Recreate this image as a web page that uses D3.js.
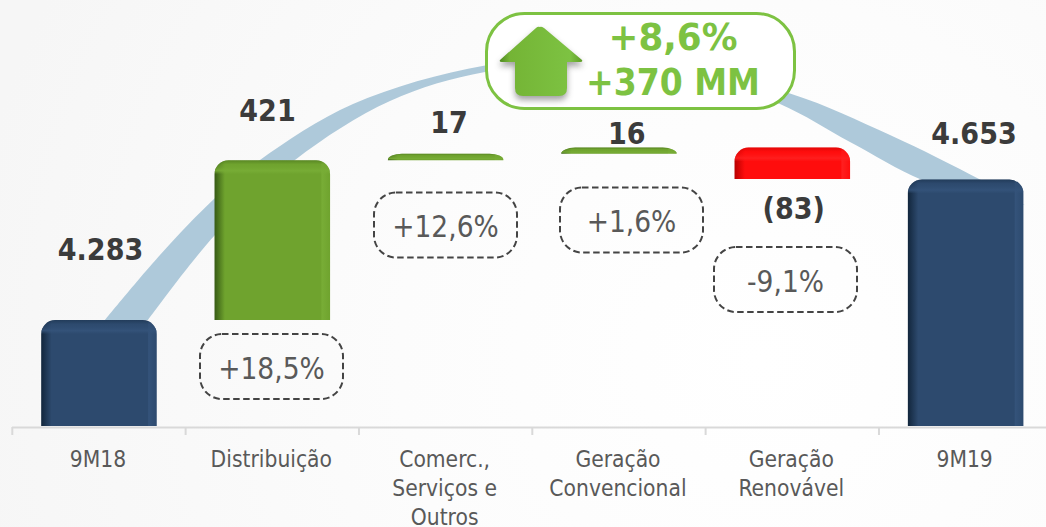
<!DOCTYPE html>
<html><head><meta charset="utf-8">
<script src="https://cdn.jsdelivr.net/npm/d3@7"></script>
<style>html,body{margin:0;padding:0;background:#fff;overflow:hidden}svg{display:block}
text{font-family:"DejaVu Sans Condensed","DejaVu Sans",sans-serif}</style></head><body>
<div id="chart"></div>
<script>
const categories = [["9M18"],["Distribuição"],["Comerc.,","Serviços e","Outros"],["Geração","Convencional"],["Geração","Renovável"],["9M19"]];
const deltas = [4283, 421, 17, 16, -83, 4653];
const kinds = ["total","up","up","up","down","total"];
const valueLabels = ["4.283","421","17","16","(83)","4.653"];
const growthLabels = [null,"+18,5%","+12,6%","+1,6%","-9,1%",null];
const headline = ["+8,6%","+370 MM"];

const W=1046,H=527;
const svg=d3.select("#chart").append("svg").attr("width",W).attr("height",H);
const defs=svg.append("defs");

// background wash
const bg=defs.append("radialGradient").attr("id","bg").attr("gradientUnits","userSpaceOnUse")
 .attr("cx",760).attr("cy",360).attr("r",800);
bg.append("stop").attr("offset",0).attr("stop-color","#ffffff");
bg.append("stop").attr("offset",0.45).attr("stop-color","#fcfcfc");
bg.append("stop").attr("offset",1).attr("stop-color","#f6f6f6");
svg.append("rect").attr("width",W).attr("height",H).attr("fill","url(#bg)");

const x=d3.scaleBand().domain(d3.range(categories.length)).range([12.3,1052.3]).paddingInner(1/3).paddingOuter(1/6);
const y=d3.scaleLinear().domain([4004,4653]).range([426,179.5]);

// running totals
let run=0;
const bars=deltas.map((d,i)=>{
  if(kinds[i]==="total"){run=d;return{i,kind:"total",lo:y.domain()[0],hi:d};}
  const s=run;run+=d;return{i,kind:kinds[i],lo:Math.min(s,run),hi:Math.max(s,run)};
});

// swoosh behind bars
const upper=[[105,320],[160,255],[215,198],[260,160],[353,104],[485,65.5],[620,55],[790,93.4],[890,135],[980,179.5],[1025,205]];
const lower=[[1025,205],[975,196],[921,179.5],[850,142],[780,104],[700,78],[600,64],[485,72],[390,101],[295,160],[215,235],[148,320]];
const curve=d3.line().curve(d3.curveCatmullRom.alpha(0.5));
const swoosh=curve(upper)+"L"+curve(lower).slice(1)+"Z";
svg.append("path").attr("d",swoosh).attr("fill","#aec9da");

// axis
const tickXs=d3.range(categories.length+1).map(i=>12.3+i*x.step());
svg.append("line").attr("x1",12).attr("x2",W).attr("y1",427.5).attr("y2",427.5).attr("stroke","#d9d9d9").attr("stroke-width",2);
svg.selectAll("line.t").data(tickXs).join("line").attr("class","t")
 .attr("x1",d=>d).attr("x2",d=>d).attr("y1",427).attr("y2",435).attr("stroke","#d9d9d9").attr("stroke-width",2);
const lab=svg.selectAll("text.cat").data(categories).join("text").attr("class","cat")
 .attr("text-anchor","middle").attr("fill","#595959").attr("font-size",22.6);
lab.each(function(lines,i){
  d3.select(this).selectAll("tspan").data(lines).join("tspan")
   .attr("x",x(i)+x.bandwidth()/2-1).attr("y",(d,j)=>466.5+j*29).text(d=>d);
});

// bar gradients
const palette={total:{base:"#2d4a6e",dark:"#12263c",light:"#34537a"},up:{base:"#6fa32e",dark:"#365a14",light:"#78ad36"},down:{base:"#ff0d0d",dark:"#b80000",light:"#ff2020"}};
Object.entries(palette).forEach(([k,c])=>{
  const g=defs.append("linearGradient").attr("id","h-"+k);
  [[0,c.dark],[0.09,c.base],[0.92,c.base],[0.93,c.light],[1,c.base]].forEach(s=>g.append("stop").attr("offset",s[0]).attr("stop-color",s[1]));
  const t=defs.append("linearGradient").attr("id","v-"+k).attr("x1",0).attr("x2",0).attr("y1",0).attr("y2",1);
  [[0,c.dark,0.4],[0.3,c.base,0.4],[0.75,c.light,0.9],[1,c.light,0]].forEach(s=>t.append("stop").attr("offset",s[0]).attr("stop-color",s[1]).attr("stop-opacity",s[2]));
});
function topRounded(l,t,w,h,r){
  const ry=Math.min(r,h);
  return `M${l},${t+h}V${t+ry}A${r},${ry} 0 0 1 ${l+r},${t}H${l+w-r}A${r},${ry} 0 0 1 ${l+w},${t+ry}V${t+h}Z`;
}
const bg2=svg.selectAll("g.bar").data(bars).join("g").attr("class","bar");
bg2.each(function(b){
  const g=d3.select(this),l=x(b.i),w=x.bandwidth(),t=y(b.hi),h=y(b.lo)-t;
  g.append("path").attr("d",topRounded(l,t,w,h,14)).attr("fill",`url(#h-${b.kind})`);
  g.append("path").attr("d",topRounded(l,t,w,Math.min(14,h),14)).attr("fill",`url(#v-${b.kind})`);
});

// value labels
const valueY=[260,120.5,133,144,219,144];
svg.selectAll("text.val").data(valueLabels).join("text").attr("class","val")
 .attr("x",(d,i)=>[100.5,267.5,449,626.7,793.7,974][i]).attr("y",(d,i)=>valueY[i])
 .attr("text-anchor","middle").attr("font-size",30).attr("font-weight","bold").attr("fill","#3b3b3b").text(d=>d);

// growth badges
const badgePos={1:[200,334],2:[374,192.5],3:[560,187.5],4:[714,247]};
growthLabels.forEach((t,i)=>{
  if(!t)return;
  const [bx,by]=badgePos[i];
  svg.append("rect").attr("x",bx).attr("y",by).attr("width",143).attr("height",65).attr("rx",22)
   .attr("fill","none").attr("stroke","#444").attr("stroke-width",2).attr("stroke-dasharray","6.5,3.5");
  svg.append("text").attr("x",bx+71.5).attr("y",by+44.5).attr("text-anchor","middle").attr("font-size",29.5).attr("fill","#595959").text(t);
});

// callout
svg.append("rect").attr("x",486.5).attr("y",13.5).attr("width",308).attr("height",95).attr("rx",38)
 .attr("fill","#fff").attr("stroke","#7dc242").attr("stroke-width",3);
const shadow=defs.append("filter").attr("id","sh").attr("x","-30%").attr("y","-30%").attr("width","160%").attr("height","160%");
shadow.append("feGaussianBlur").attr("stdDeviation",3);
const ag=defs.append("linearGradient").attr("id","arrow");
[[0,"#4f8a20"],[0.12,"#74b435"],[0.85,"#7dc242"],[1,"#5f9e28"]].forEach(s=>ag.append("stop").attr("offset",s[0]).attr("stop-color",s[1]));
const arrowPath="M540,27Q541,26 544,28L582,60Q583,62 580,62H567V88Q567,96 559,96H523Q515,96 515,88V62H502Q499,62 500,60L536,28Q538,26 540,27Z";
svg.append("path").attr("d",arrowPath).attr("transform","translate(0,4)").attr("fill","#555").attr("opacity",.55).attr("filter","url(#sh)");
svg.append("path").attr("d",arrowPath).attr("fill","url(#arrow)");
svg.selectAll("text.hl").data(headline).join("text").attr("class","hl")
 .attr("x",673).attr("y",(d,i)=>[50,95][i]).attr("text-anchor","middle").attr("font-size",37.5).attr("font-weight","bold")
 .attr("textLength",(d,i)=>[129,174][i]).attr("lengthAdjust","spacingAndGlyphs").attr("fill","#7dc242").text(d=>d);
</script></body></html>
